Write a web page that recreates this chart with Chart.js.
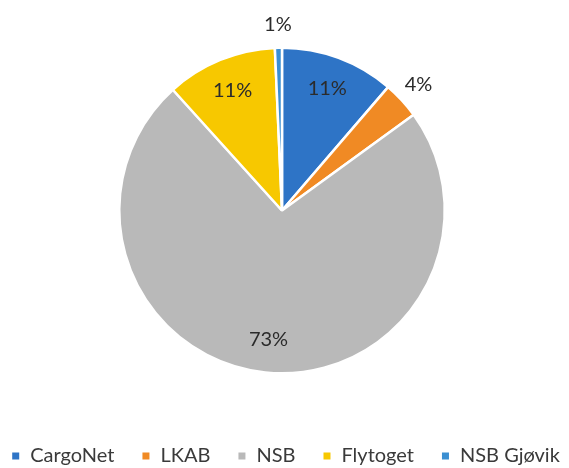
<!DOCTYPE html>
<html>
<head>
<meta charset="utf-8">
<script src="https://cdn.jsdelivr.net/npm/chart.js@4"></script>
<style>
  html, body { margin: 0; padding: 0; background: #ffffff; }
  #wrap { width: 569px; height: 468px; position: relative; }
</style>
</head>
<body>
<div id="wrap"><canvas id="c" width="569" height="468"></canvas></div>
<script>
const categories = ['CargoNet', 'LKAB', 'NSB', 'Flytoget', 'NSB Gjøvik'];
const shares = [11.3, 3.7, 73.3, 11.0, 0.7];
const percentLabels = ['11%', '4%', '73%', '11%', '1%'];
const sliceColors = ['#2E74C6', '#F08A24', '#B9B9B9', '#F7C800', '#3B8FD2'];

const FONT = 'Lato, "Liberation Sans", sans-serif';

const sliceLabels = {
  id: 'sliceLabels',
  afterDatasetsDraw(chart) {
    const ctx = chart.ctx;
    const meta = chart.getDatasetMeta(0);
    const total = shares.reduce((a, b) => a + b, 0);
    ctx.save();
    ctx.font = '20px ' + FONT;
    ctx.fillStyle = '#2b2b2b';
    ctx.textAlign = 'center';
    ctx.textBaseline = 'middle';
    meta.data.forEach((arc, i) => {
      const p = arc.getProps(['x', 'y', 'startAngle', 'endAngle', 'outerRadius'], true);
      const mid = (p.startAngle + p.endAngle) / 2;
      const frac = shares[i] / total;
      const r = p.outerRadius * (frac < 0.05 ? 1.14 : 0.8);
      ctx.fillText(percentLabels[i], p.x + Math.cos(mid) * r, p.y + Math.sin(mid) * r);
    });
    ctx.restore();
  }
};

const bottomLegend = {
  id: 'bottomLegend',
  afterDraw(chart) {
    const ctx = chart.ctx;
    ctx.save();
    ctx.font = '20px ' + FONT;
    ctx.textBaseline = 'middle';
    ctx.textAlign = 'left';
    const box = 7, gapText = 11, gapItem = 28;
    const widths = categories.map(c => ctx.measureText(c).width);
    let total = widths.reduce((a, b) => a + b, 0) + categories.length * (box + gapText) + (categories.length - 1) * gapItem;
    let x = 286 - total / 2;
    const y = 456;
    categories.forEach((c, i) => {
      ctx.fillStyle = sliceColors[i];
      ctx.fillRect(x, y - box / 2, box, box);
      x += box + gapText;
      ctx.fillStyle = '#3a3a3a';
      ctx.fillText(c, x, y);
      x += widths[i] + gapItem;
    });
    ctx.restore();
  }
};

new Chart(document.getElementById('c'), {
  type: 'pie',
  data: {
    labels: categories,
    datasets: [{
      data: shares,
      backgroundColor: sliceColors,
      borderColor: '#ffffff',
      borderWidth: 2.5
    }]
  },
  options: {
    responsive: false,
    animation: false,
    layout: { padding: { left: 118, right: 123, top: 46, bottom: 93 } },
    plugins: {
      legend: { display: false },
      tooltip: { enabled: false }
    }
  },
  plugins: [sliceLabels, bottomLegend]
});
</script>
</body>
</html>
